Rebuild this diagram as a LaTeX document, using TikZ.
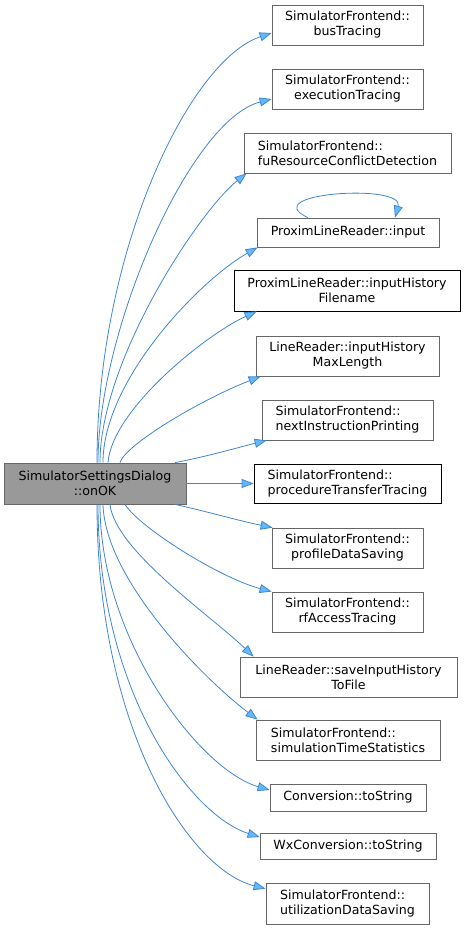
\documentclass[tikz,border=0pt]{standalone}
\usepackage{fontspec}
\setmainfont{DejaVu Sans}
\usepackage{xcolor}
\usetikzlibrary{arrows.meta}
\definecolor{edgeblue}{HTML}{63B8FF}
\definecolor{edgeline}{HTML}{3F86CF}
\definecolor{boxgray}{HTML}{666666}
\definecolor{maingray}{HTML}{999999}

\begin{document}
\begin{tikzpicture}[x=1pt,y=-1pt,
  every node/.style={font=\fontsize{12.6}{15}\selectfont},
  fn/.style={draw=boxgray,fill=white,line width=0.8pt,inner sep=0pt,minimum height=40pt,align=center},
  fnl/.style={fn,align=left},
  call/.style={-{Triangle[length=12pt,width=9pt,fill=edgeblue]},draw=edgeline,line width=0.8pt}]
 \useasboundingbox (0,0) rectangle (468,929);
 % caller
 \node[fn,fill=maingray,minimum width=182pt,minimum height=41pt] (main) at (95,483.5) {SimulatorSettingsDialog\\::onOK};
 % callees
 \node[fn,minimum width=151pt] (bustrace) at (347.5,25) {SimulatorFrontend::\\busTracing};
 \node[fn,minimum width=151pt] (exectrace) at (347.5,89) {SimulatorFrontend::\\executionTracing};
 \node[fnl,minimum width=207pt] (fures) at (347.5,153) {SimulatorFrontend::\\fuResourceConflictDetection};
 \node[fn,minimum width=182pt,minimum height=29pt] (input) at (348,232.5) {ProximLineReader::input};
 \node[fn,draw=black,minimum width=226pt,minimum height=41pt] (histfile) at (347,290.5) {ProximLineReader::inputHistory\\Filename};
 \node[fn,minimum width=183pt] (histlen) at (347.5,356) {LineReader::inputHistory\\MaxLength};
 \node[fnl,minimum width=171pt] (nextinstr) at (347.5,420) {SimulatorFrontend::\\nextInstructionPrinting};
 \node[fnl,draw=black,minimum width=187pt,minimum height=39pt] (proctrace) at (347.5,483.5) {SimulatorFrontend::\\procedureTransferTracing};
 \node[fn,minimum width=151pt] (profile) at (347.5,548) {SimulatorFrontend::\\profileDataSaving};
 \node[fn,minimum width=151pt] (rfaccess) at (347.5,612) {SimulatorFrontend::\\rfAccessTracing};
 \node[fn,minimum width=217pt] (savehist) at (348.5,677) {LineReader::saveInputHistory\\ToFile};
 \node[fnl,minimum width=184pt] (simtime) at (348,740) {SimulatorFrontend::\\simulationTimeStatistics};
 \node[fn,minimum width=156pt,minimum height=27pt] (conv) at (348,797.5) {Conversion::toString};
 \node[fn,minimum width=176pt,minimum height=26pt] (wxconv) at (348,846) {WxConversion::toString};
 \node[fnl,minimum width=163pt,minimum height=41pt] (utilsave) at (347.5,903.5) {SimulatorFrontend::\\utilizationDataSaving};
 % calls going up
 \draw[call] ([xshift=2]main.north) .. controls (97,250) and (190,60) .. ([yshift=-8]bustrace.west);
 \draw[call] ([xshift=3]main.north) .. controls (98,330) and (190,120) .. ([yshift=-10]exectrace.west);
 \draw[call] ([xshift=5]main.north) .. controls (100,360) and (200,210) .. ([xshift=3]fures.south west);
 \draw[call] ([xshift=8]main.north) .. controls (103,380) and (200,280) .. ([xshift=1]input.south west);
 \draw[call] ([xshift=13]main.north) .. controls (112,410) and (205,335) .. ([xshift=23]histfile.south west);
 \draw[call] ([xshift=25]main.north) .. controls (125,445) and (200,400) .. ([xshift=5]histlen.south west);
 \draw[call] ([xshift=80]main.north) .. controls (205,457) and (240,447) .. ([xshift=5]nextinstr.south west);
 \draw[call] (main.east) -- (proctrace.west);
 % calls going down
 \draw[call] ([xshift=80]main.south) .. controls (205,511) and (240,521) .. ([xshift=1]profile.north west);
 \draw[call] ([xshift=30]main.south) .. controls (140,528) and (220,578) .. (rfaccess.north west);
 \draw[call] ([xshift=15]main.south) .. controls (115,550) and (210,615) .. ([xshift=14]savehist.north west);
 \draw[call] ([xshift=8]main.south) .. controls (105,580) and (205,680) .. ([xshift=2]simtime.north west);
 \draw[call] ([xshift=5]main.south) .. controls (100,640) and (200,770) .. ([yshift=7.5]conv.west);
 \draw[call] ([xshift=3]main.south) .. controls (98,690) and (190,815) .. ([yshift=9]wxconv.west);
 \draw[call] ([xshift=2]main.south) .. controls (97,730) and (190,870) .. ([yshift=-6]utilsave.north west);
 % recursion
 \draw[call] ([xshift=-40]input.north) .. controls (255,193) and (405,183) .. ([xshift=47]input.north);
\end{tikzpicture}
\end{document}
